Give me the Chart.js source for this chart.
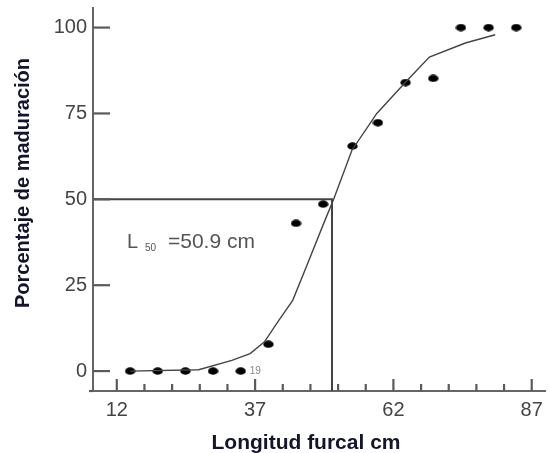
<!DOCTYPE html>
<html>
<head>
<meta charset="utf-8">
<script src="https://cdn.jsdelivr.net/npm/chart.js@4.4.0/dist/chart.umd.min.js"></script>
<style>
  html, body { margin: 0; padding: 0; background: #fff; }
  #wrap { width: 550px; height: 453px; position: relative; }
</style>
</head>
<body>
<div id="wrap"><canvas id="chart"></canvas></div>
<script>
// observed maturity per length class
const lengthClasses = [14.4, 19.4, 24.4, 29.4, 34.4, 39.4, 44.4, 49.3, 54.6, 59.2, 64.2, 69.2, 74.2, 79.2, 84.2];
const maturityPct = [0, 0, 0, 0, 0, 7.8, 43, 48.6, 65.5, 72.3, 84, 85.2, 100, 100, 100];

// fitted curve
const fitLength = [14.4, 26.8, 32.8, 36.1, 38.7, 41.1, 43.8, 46.5, 49.4, 51.2, 54.5, 59, 64.3, 68.5, 75, 80.4];
const fitPct = [0, 0.4, 3.1, 5.1, 8.5, 14.3, 20.6, 31.3, 43, 50, 64.3, 75, 84.3, 91.4, 95.5, 97.9];

// L50
const l50 = 50.9;
const l50Pct = 50;
const l50Text = "=50.9 cm";

// axes
const xMin = 7.7, xMax = 89.4;
const yMin = -5.8, yMax = 105.7;
const xTicks = [12, 37, 62, 87];
const xMinorTicks = [17, 22, 27, 32, 42, 47, 52, 57, 67, 72, 77, 82];
const yTicks = [0, 25, 50, 75, 100];
const xTitle = "Longitud furcal cm";
const yTitle = "Porcentaje de maduración";

// ellipse-shaped dot like the scanned figure
const dot = document.createElement("canvas");
dot.width = 11; dot.height = 8;
const dctx = dot.getContext("2d");
dctx.fillStyle = "#000";
dctx.beginPath();
dctx.ellipse(5.5, 4, 5.2, 3.7, 0, 0, Math.PI * 2);
dctx.fill();

const FONT = "'Liberation Sans', Arial, sans-serif";

function seg(ctx, x1, y1, x2, y2) {
    ctx.beginPath();
    ctx.moveTo(x1, y1);
    ctx.lineTo(x2, y2);
    ctx.stroke();
}

// inward ticks, titles and annotation
const extras = {
    id: "extras",
    afterDraw(chart) {
        const ctx = chart.ctx;
        const x = chart.scales.x, y = chart.scales.y;
        const left = chart.chartArea.left, bottom = chart.chartArea.bottom;
        ctx.save();
        ctx.setLineDash([]);
        ctx.strokeStyle = "#5a5a5a";
        ctx.lineWidth = 2.2;
        // y ticks
        yTicks.forEach(v => {
            const py = y.getPixelForValue(v);
            seg(ctx, left, py, left + 17, py);
        });
        // x ticks
        xTicks.forEach(v => {
            const px = x.getPixelForValue(v);
            seg(ctx, px, bottom, px, bottom - 12);
        });
        xMinorTicks.forEach(v => {
            const px = x.getPixelForValue(v);
            seg(ctx, px, bottom, px, bottom - 7);
        });
        // x axis stub to the left of y axis
        seg(ctx, left - 4, bottom, left, bottom);

        // annotation L50
        ctx.fillStyle = "#555";
        ctx.textBaseline = "middle";
        ctx.textAlign = "left";
        const ay = 242;
        ctx.font = "20px " + FONT;
        ctx.fillText("L", 127, ay);
        ctx.font = "10px " + FONT;
        ctx.fillText("50", 145, ay + 6);
        ctx.font = "21px " + FONT;
        ctx.fillText(l50Text, 168, ay);

        // small sample size label
        ctx.fillStyle = "#888";
        ctx.font = "10px " + FONT;
        ctx.fillText("19", x.getPixelForValue(34.4) + 9, y.getPixelForValue(0));

        // axis titles
        ctx.fillStyle = "#14142c";
        ctx.font = "bold 21px " + FONT;
        ctx.textAlign = "center";
        ctx.fillText(xTitle, 306, 443);
        ctx.translate(23, 183);
        ctx.rotate(-Math.PI / 2);
        ctx.font = "bold 20px " + FONT;
        ctx.fillText(yTitle, 0, 0);
        ctx.restore();
    }
};

new Chart(document.getElementById("chart"), {
    type: "scatter",
    data: {
        datasets: [
            {
                type: "line",
                data: [{x: xMin, y: l50Pct}, {x: l50, y: l50Pct}, {x: l50, y: yMin}],
                borderColor: "#444",
                borderWidth: 2,
                pointRadius: 0,
                tension: 0
            },
            {
                type: "line",
                data: fitLength.map((v, i) => ({x: v, y: fitPct[i]})),
                borderColor: "#444",
                borderWidth: 1.4,
                pointRadius: 0,
                tension: 0
            },
            {
                data: lengthClasses.map((v, i) => ({x: v, y: maturityPct[i]})),
                pointStyle: dot,
                backgroundColor: "#000"
            }
        ]
    },
    options: {
        responsive: true,
        maintainAspectRatio: false,
        animation: false,
        layout: { padding: { top: 8, right: 0, left: 0, bottom: 0 } },
        plugins: { legend: { display: false }, tooltip: { enabled: false } },
        scales: {
            x: {
                type: "linear",
                min: xMin, max: xMax,
                afterBuildTicks: axis => { axis.ticks = xTicks.map(v => ({value: v})); },
                afterFit: scale => { scale.height = 62; scale.paddingLeft = 0; scale.paddingRight = 0; },
                grid: { display: false, drawTicks: false },
                border: { color: "#666", width: 2 },
                ticks: { color: "#444", padding: 7, font: { family: FONT, size: 20 } }
            },
            y: {
                min: yMin, max: yMax,
                afterBuildTicks: axis => { axis.ticks = yTicks.map(v => ({value: v})); },
                afterFit: scale => { scale.width = 93; scale.paddingTop = 0; scale.paddingBottom = 0; },
                grid: { display: false, drawTicks: false },
                border: { color: "#666", width: 2 },
                ticks: { color: "#444", padding: 6, font: { family: FONT, size: 20 } }
            }
        }
    },
    plugins: [extras]
});
</script>
</body>
</html>
